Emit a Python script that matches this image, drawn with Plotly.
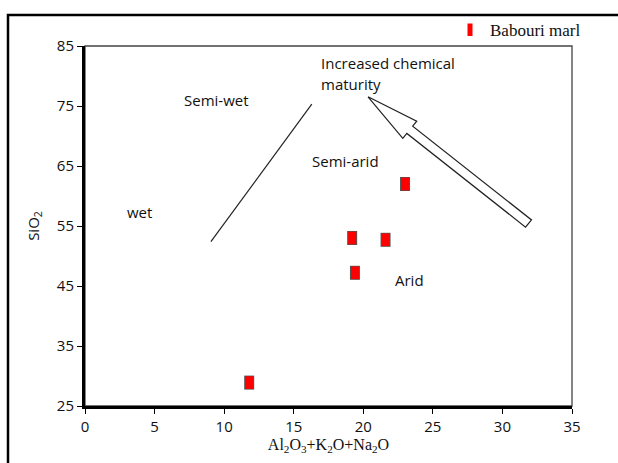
import plotly.graph_objects as go

# ---- data ----
x_oxides = [11.8, 19.2, 19.4, 21.6, 23.0]   # Al2O3+K2O+Na2O
y_sio2 = [28.9, 53.0, 47.2, 52.7, 62.0]     # SiO2
series_name = "Babouri marl"

x_ticks = [0, 5, 10, 15, 20, 25, 30, 35]
y_ticks = [25, 35, 45, 55, 65, 75, 85]

# boundary line (Semi-wet / Semi-arid divide)
div_x = [9.05, 16.3]
div_y = [52.4, 75.3]

# hollow arrow outline (data units)
arrow_x = [20.34, 22.84, 23.13, 31.66, 32.09, 23.55, 23.84, 20.34]
arrow_y = [76.53, 69.60, 70.43, 54.81, 56.01, 71.64, 72.47, 76.53]

W, H = 618, 463
ML, MR, MT, MB = 85, 46, 45, 53

fig = go.Figure()

fig.add_trace(go.Scatter(x=div_x, y=div_y, mode="lines",
                         line=dict(color="#222222", width=1.2),
                         showlegend=False, hoverinfo="skip"))
fig.add_trace(go.Scatter(x=arrow_x, y=arrow_y, mode="lines", fill="toself",
                         fillcolor="white", line=dict(color="#222222", width=1.2),
                         showlegend=False, hoverinfo="skip"))

# marker border then red fill (vertical rectangles)
fig.add_trace(go.Scatter(x=x_oxides, y=y_sio2, mode="markers",
                         marker=dict(symbol="line-ns", size=10,
                                     line=dict(color="#555555", width=10)),
                         showlegend=False, hoverinfo="skip"))
fig.add_trace(go.Scatter(x=x_oxides, y=y_sio2, mode="markers", name=series_name,
                         marker=dict(symbol="line-ns", size=9,
                                     line=dict(color="#ff0000", width=8)),
                         showlegend=True))

sans = "Open Sans"
txt = dict(family=sans, size=15, color="#111111")

def label(x, y, t):
    fig.add_annotation(x=x, y=y, xref="x", yref="y", text=t, showarrow=False,
                       xanchor="left", yanchor="middle", font=txt, align="left")

label(16.85, 82.2, "Increased chemical")
label(16.85, 78.6, "maturity")
label(7.0, 76.0, "Semi-wet")
label(16.2, 65.9, "Semi-arid")
label(2.9, 57.3, "wet")
label(22.1, 46.0, "Arid")

# outer frame and plot-area border
fig.add_shape(type="rect", xref="paper", yref="paper",
              x0=(8 - ML) / (W - ML - MR), x1=1.12,
              y0=-0.2, y1=1 + (MT - 13.5) / (H - MT - MB),
              line=dict(color="black", width=2.5), layer="below")
fig.add_shape(type="rect", xref="paper", yref="paper", x0=0, x1=1, y0=0, y1=1,
              line=dict(color="#444444", width=1.3), layer="below")

fig.update_layout(
    width=W, height=H,
    margin=dict(l=ML, r=MR, t=MT, b=MB),
    paper_bgcolor="white", plot_bgcolor="white",
    showlegend=True,
    legend=dict(x=1.0 + 14 / (W - ML - MR), y=1 + (MT - 29) / (H - MT - MB),
                xanchor="right", yanchor="middle",
                bgcolor="rgba(0,0,0,0)",
                font=dict(family="Liberation Serif", size=17, color="#111111"),
                itemwidth=30),
    xaxis=dict(range=[0, 35], tickvals=x_ticks, showgrid=False, zeroline=False,
               showline=True, linecolor="black", linewidth=3,
               ticks="outside", ticklen=5, tickwidth=1, tickcolor="black",
               tickfont=dict(family=sans, size=15, color="#111111"),
               title=dict(text="Al<sub>2</sub>O<sub>3</sub>+K<sub>2</sub>O+Na<sub>2</sub>O",
                          font=dict(family="Liberation Serif", size=16, color="#111111"),
                          standoff=4)),
    yaxis=dict(range=[25, 85], tickvals=y_ticks, showgrid=False, zeroline=False,
               showline=True, linecolor="black", linewidth=3,
               ticks="outside", ticklen=5, tickwidth=1, tickcolor="black",
               tickfont=dict(family=sans, size=15, color="#111111"),
               title=dict(text="SiO<sub>2</sub>",
                          font=dict(family=sans, size=15, color="#111111"),
                          standoff=14)),
)

fig.write_html("out.html")
